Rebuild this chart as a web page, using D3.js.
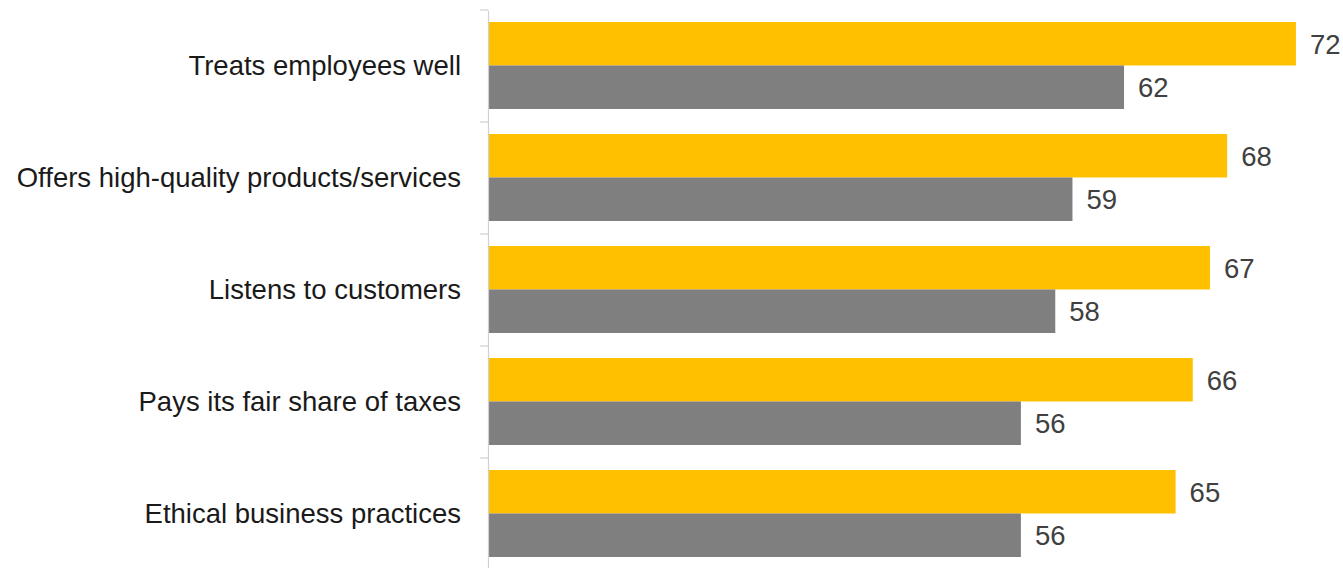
<!DOCTYPE html>
<html>
<head>
<meta charset="utf-8">
<script src="https://d3js.org/d3.v7.min.js"></script>
<style>
  body { margin: 0; background: #fff; }
  text { font-family: "Liberation Sans", Arial, sans-serif; }
</style>
</head>
<body>
<div id="chart-area"></div>
<script>
// data
var categories = ["Treats employees well", "Offers high-quality products/services",
  "Listens to customers", "Pays its fair share of taxes", "Ethical business practices"];
var series = ["first", "second"];
var firstValues = [72, 68, 67, 66, 65];
var secondValues = [62, 59, 58, 56, 56];

var W = 1343, H = 568;
var margin = {top: 10, right: 0, bottom: 0, left: 488};

var svg = d3.select("#chart-area").append("svg")
  .attr("width", W)
  .attr("height", H);

// scales
var x = d3.scaleLinear()
  .domain([25, 75])
  .range([margin.left, margin.left + 50 * 17.19]);

var y = d3.scaleBand()
  .domain(categories)
  .range([margin.top, margin.top + 112 * categories.length]);

var ySub = d3.scaleBand()
  .domain(series)
  .range([12, y.bandwidth() - 13]);

var fill = d3.scaleOrdinal().domain(series).range(["#FFC000", "#7F7F7F"]);

var rows = categories.map(function(c, i) {
  return {cat: c, vals: [{s: "first", v: firstValues[i]}, {s: "second", v: secondValues[i]}]};
});

// bars
var row = svg.selectAll("g.row").data(rows).enter().append("g")
  .attr("class", "row")
  .attr("transform", function(d) { return "translate(0," + y(d.cat) + ")"; });

row.selectAll("rect").data(function(d) { return d.vals; }).enter().append("rect")
  .attr("x", x(25))
  .attr("y", function(d) { return ySub(d.s); })
  .attr("width", function(d) { return x(d.v) - x(25); })
  .attr("height", ySub.bandwidth())
  .attr("fill", function(d) { return fill(d.s); });

row.selectAll("text.val").data(function(d) { return d.vals; }).enter().append("text")
  .attr("class", "val")
  .attr("x", function(d) { return x(d.v) + 14; })
  .attr("y", function(d) { return ySub(d.s) + ySub.bandwidth() / 2; })
  .attr("dy", "0.36em")
  .attr("font-size", "27.5px")
  .attr("fill", "#404040")
  .text(function(d) { return d.v; });

// y axis with category labels
var yAxis = svg.append("g")
  .attr("transform", "translate(" + margin.left + ",0)")
  .call(d3.axisLeft(y).tickSize(0).tickPadding(27));
yAxis.select(".domain").attr("stroke", "#d0d0d0").attr("stroke-width", 1.2);
yAxis.selectAll(".tick text")
  .attr("font-size", "27.5px")
  .attr("fill", "#1a1a1a")
  .style("font-family", "'Liberation Sans', Arial, sans-serif");

// boundary ticks
var bounds = categories.map(function(c) { return y(c); }).concat([y.range()[1]]);
yAxis.selectAll("line.bound").data(bounds).enter().append("line")
  .attr("class", "bound")
  .attr("x1", -8).attr("x2", 0)
  .attr("y1", function(d) { return d; })
  .attr("y2", function(d) { return d; })
  .attr("stroke", "#d0d0d0")
  .attr("stroke-width", 1.2);
</script>
</body>
</html>
